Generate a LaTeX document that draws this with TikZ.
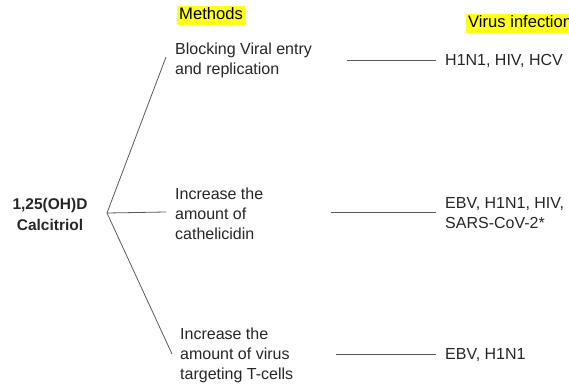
\documentclass[tikz,border=0pt]{standalone}
\usepackage{fontspec}
\setmainfont{Liberation Sans}
\definecolor{txt}{HTML}{262626}
\definecolor{ln}{HTML}{5A5A5A}
\definecolor{hl}{HTML}{FFFF1A}
\begin{document}
\begin{tikzpicture}[x=1pt,y=-1pt,
  every node/.style={font=\fontsize{16}{20}\selectfont, text=txt, inner sep=0pt},
  method/.style={anchor=west, align=left},
  virus/.style={anchor=west, align=left},
  header/.style={anchor=west, fill=hl, text=black, font=\fontsize{16.6}{20}\selectfont, inner xsep=2pt, inner ysep=2pt, text height=11.8pt, text depth=3.6pt},
  conn/.style={draw=ln, line width=0.8pt}]
\useasboundingbox (0,0) rectangle (569,385);
\fill[white] (0,0) rectangle (569,385);

\node[header] (hm) at (177,15.5) {Methods};
\node[header] (hv) at (466,23.5) {Virus infection};

\node[align=center, font=\fontsize{15.5}{21}\selectfont\bfseries] (cal) at (50,214) {1,25(OH)D\\Calcitriol};
\coordinate (v) at (107,213);

\node[method] (m1) at (175,60) {Blocking Viral entry\\and replication};
\node[method] (m2) at (175,214) {Increase the\\amount of\\cathelicidin};
\node[method] (m3) at (180,355) {Increase the\\amount of virus\\targeting T-cells};

\coordinate (e1) at (166,57);
\coordinate (e2) at (166,212);
\coordinate (e3) at (172,354);

\draw[conn] (v) -- (e1);
\draw[conn] (v) -- (e2);
\draw[conn] (v) -- (e3);

\node[virus] (r1) at (445,61) {H1N1, HIV, HCV};
\node[virus] (r2) at (445,213) {EBV, H1N1, HIV,\\SARS-CoV-2*};
\node[virus] (r3) at (445,355) {EBV, H1N1};

\coordinate (s1) at (347,60);
\coordinate (s2) at (331,212);
\coordinate (s3) at (336,354);

\draw[conn] (s1) -- ([xshift=-9pt]r1.west |- s1);
\draw[conn] (s2) -- ([xshift=-9pt]r2.west |- s2);
\draw[conn] (s3) -- ([xshift=-9pt]r3.west |- s3);
\end{tikzpicture}
\end{document}
